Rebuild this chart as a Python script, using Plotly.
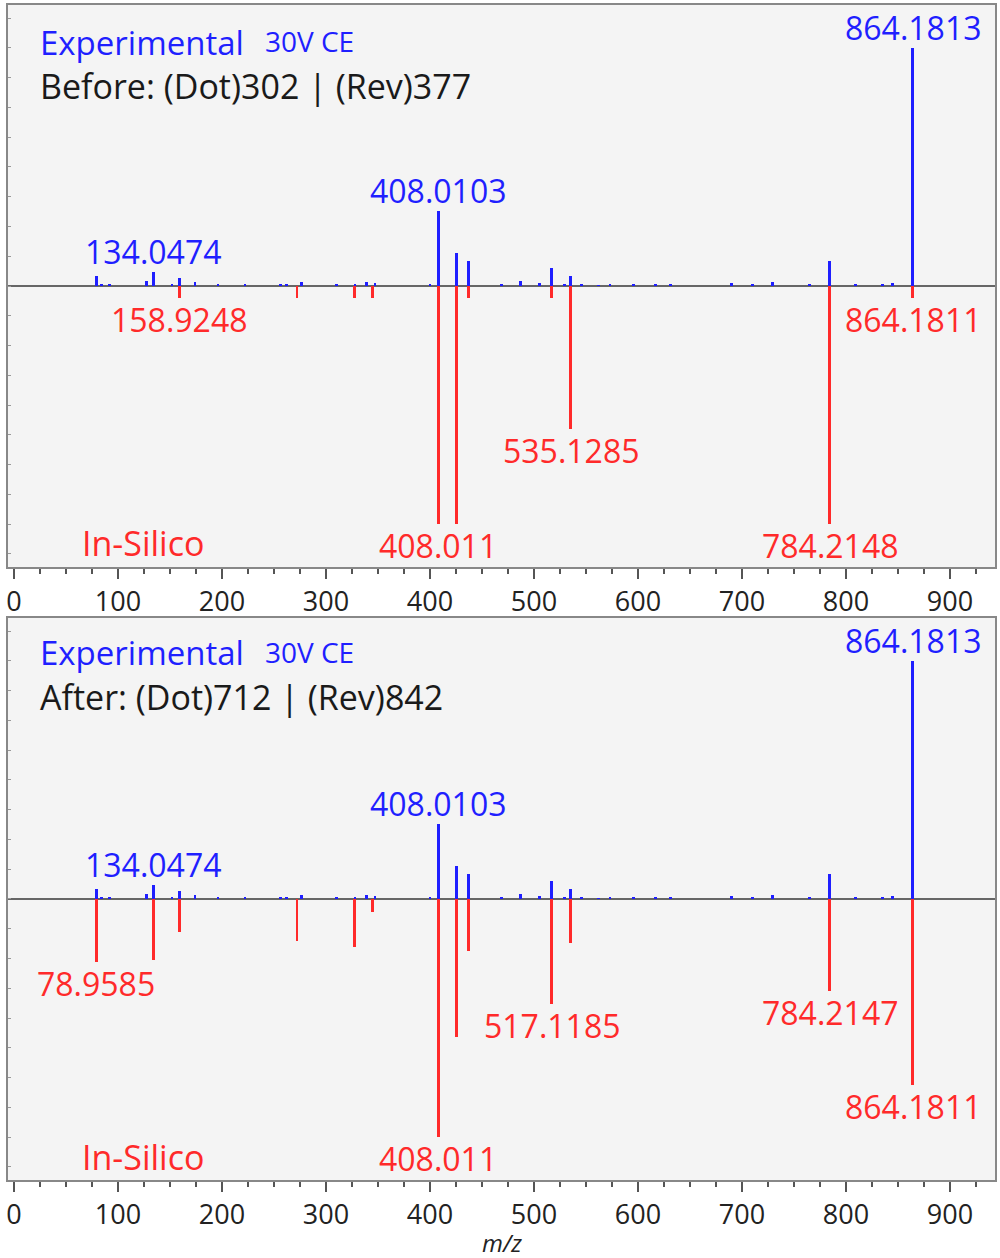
import plotly.graph_objects as go
from plotly.subplots import make_subplots

# experimental spectrum (same in both panels), relative intensity %
exp_mz = [79.0, 84.0, 92.0, 127.6, 134.0474, 152.0, 159.0, 174.0, 196.0, 222.0,
          256.0, 262.0, 276.6, 310.0, 328.0, 339.0, 347.0, 400.0, 408.0103, 425.6,
          436.9, 469.0, 487.0, 505.0, 516.9, 529.0, 535.1, 546.0, 562.0, 573.0,
          596.0, 617.0, 631.0, 690.0, 710.0, 729.5, 765.0, 784.2, 809.0, 835.0,
          845.0, 864.1813]
exp_int = [4.2, 1.0, 0.5, 2.0, 5.8, 1.0, 3.5, 1.5, 0.5, 0.5,
           0.8, 0.8, 1.5, 1.0, 1.0, 1.5, 1.2, 0.5, 31.5, 14.0,
           10.5, 1.0, 2.0, 1.2, 7.7, 0.8, 4.2, 0.5, 0.4, 0.5,
           0.5, 0.5, 1.0, 1.3, 0.8, 1.8, 0.5, 10.6, 0.8, 0.8,
           1.3, 100.0]

# in-silico spectrum, before optimisation
before_mz = [158.9248, 272.0, 327.5, 345.0, 408.011, 425.6, 436.9, 516.9, 535.1285, 784.2148, 864.1811]
before_int = [5.0, 5.0, 5.0, 5.0, 100.0, 100.0, 5.0, 5.0, 60.0, 100.0, 5.0]

# in-silico spectrum, after optimisation
after_mz = [78.9585, 134.05, 158.92, 272.0, 327.5, 345.0, 408.011, 425.6, 436.9, 517.1185, 535.13, 784.2147, 864.1811]
after_int = [26.5, 25.6, 14.0, 17.6, 20.0, 5.5, 100.0, 58.0, 22.0, 44.0, 18.5, 38.5, 78.0]

# labelled peaks
exp_labels = [134.0474, 408.0103, 864.1813]
before_labels = [158.9248, 408.011, 535.1285, 784.2148, 864.1811]
after_labels = [78.9585, 408.011, 517.1185, 784.2147, 864.1811]

headers = ["Before: (Dot)302 | (Rev)377", "After: (Dot)712 | (Rev)842"]

BLUE = "#1f1fff"
RED = "#ff2a2a"
FONT = "Open Sans"

fig = make_subplots(rows=2, cols=1, vertical_spacing=0.04)

insilico = [(before_mz, before_int, before_labels), (after_mz, after_int, after_labels)]
# y positions (domain fraction) of the corner texts per panel
text_y = [dict(exp=0.934, ce=0.936, hdr=0.856, sil=0.043),
          dict(exp=0.938, ce=0.940, hdr=0.859, sil=0.041)]

for r, (rmz, rint, rlab) in enumerate(insilico, start=1):
    fig.add_trace(go.Bar(x=exp_mz, y=exp_int, width=2.6, marker=dict(color=BLUE, line_width=0),
                         showlegend=False), row=r, col=1)
    fig.add_trace(go.Bar(x=rmz, y=[-v for v in rint], width=2.6, marker=dict(color=RED, line_width=0),
                         showlegend=False), row=r, col=1)
    xr = "x" if r == 1 else "x2"
    yr = "y" if r == 1 else "y2"
    for m in exp_labels:
        v = exp_int[exp_mz.index(m)]
        fig.add_annotation(x=m, y=v, xref=xr, yref=yr, text=f"{m:.4f}".rstrip("0"),
                           showarrow=False, yanchor="bottom", yshift=-3,
                           font=dict(family=FONT, size=32, color=BLUE))
    for m in rlab:
        v = rint[rmz.index(m)]
        fig.add_annotation(x=m, y=-v, xref=xr, yref=yr, text=f"{m:.4f}".rstrip("0"),
                           showarrow=False, yanchor="top", yshift=2,
                           font=dict(family=FONT, size=32, color=RED))
    dx = f"{xr} domain"
    dy = f"{yr} domain"
    ty = text_y[r - 1]
    fig.add_annotation(x=0.0304, y=ty["exp"], xref=dx, yref=dy, text="Experimental",
                       showarrow=False, xanchor="left", yanchor="middle",
                       font=dict(family=FONT, size=33, color=BLUE))
    fig.add_annotation(x=0.258, y=ty["ce"], xref=dx, yref=dy, text="30V CE",
                       showarrow=False, xanchor="left", yanchor="middle",
                       font=dict(family=FONT, size=28, color=BLUE))
    fig.add_annotation(x=0.0304, y=ty["hdr"], xref=dx, yref=dy, text=headers[r - 1],
                       showarrow=False, xanchor="left", yanchor="middle",
                       font=dict(family=FONT, size=34, color="#1a1a1a"))
    fig.add_annotation(x=0.073, y=ty["sil"], xref=dx, yref=dy, text="In-Silico",
                       showarrow=False, xanchor="left", yanchor="middle",
                       font=dict(family=FONT, size=34, color=RED))

# axis title as a plain annotation
fig.add_annotation(x=0.5, y=-0.0536, xref="x2 domain", yref="paper", text="<i>m/z</i>",
                   showarrow=False, xanchor="center", yanchor="middle",
                   font=dict(family=FONT, size=24, color="#222"))

xaxis_style = dict(range=[-5.8, 943.3], tickmode="linear", tick0=0, dtick=100,
                   ticks="outside", ticklen=10, tickwidth=1.5, tickcolor="#555",
                   minor=dict(dtick=25, ticklen=5, ticks="outside", tickcolor="#555"),
                   showline=True, linecolor="#888", linewidth=1.5, mirror=True,
                   showgrid=False, zeroline=False, automargin=False,
                   ticklabeloverflow="allow",
                   tickfont=dict(family=FONT, size=27, color="#222"))
yaxis_style = dict(range=[-118, 118], showticklabels=False, showgrid=False,
                   tickmode="linear", tick0=0, dtick=12.5, ticks="inside", ticklen=3,
                   tickcolor="#999", showline=True, linecolor="#888", linewidth=1.5,
                   mirror=True, zeroline=True, zerolinecolor="#666", zerolinewidth=1.5,
                   automargin=False)

fig.update_xaxes(**xaxis_style)
fig.update_yaxes(**yaxis_style)
fig.update_layout(
    xaxis=dict(domain=[0, 1]),
    xaxis2=dict(domain=[0, 1]),
    yaxis=dict(domain=[0.5217, 1.0]),
    yaxis2=dict(domain=[0.0, 0.4783]),
    width=1000, height=1258,
    margin=dict(l=8, r=5, t=5, b=78, autoexpand=False),
    barmode="overlay",
    bargap=0,
    plot_bgcolor="#f4f4f4",
    paper_bgcolor="white",
    font=dict(family=FONT),
)

# drop the browser's default 8px body margin so the figure fills the window
fig.write_html("out.html", config={"displayModeBar": False},
               post_script="document.body.style.margin='0';")
